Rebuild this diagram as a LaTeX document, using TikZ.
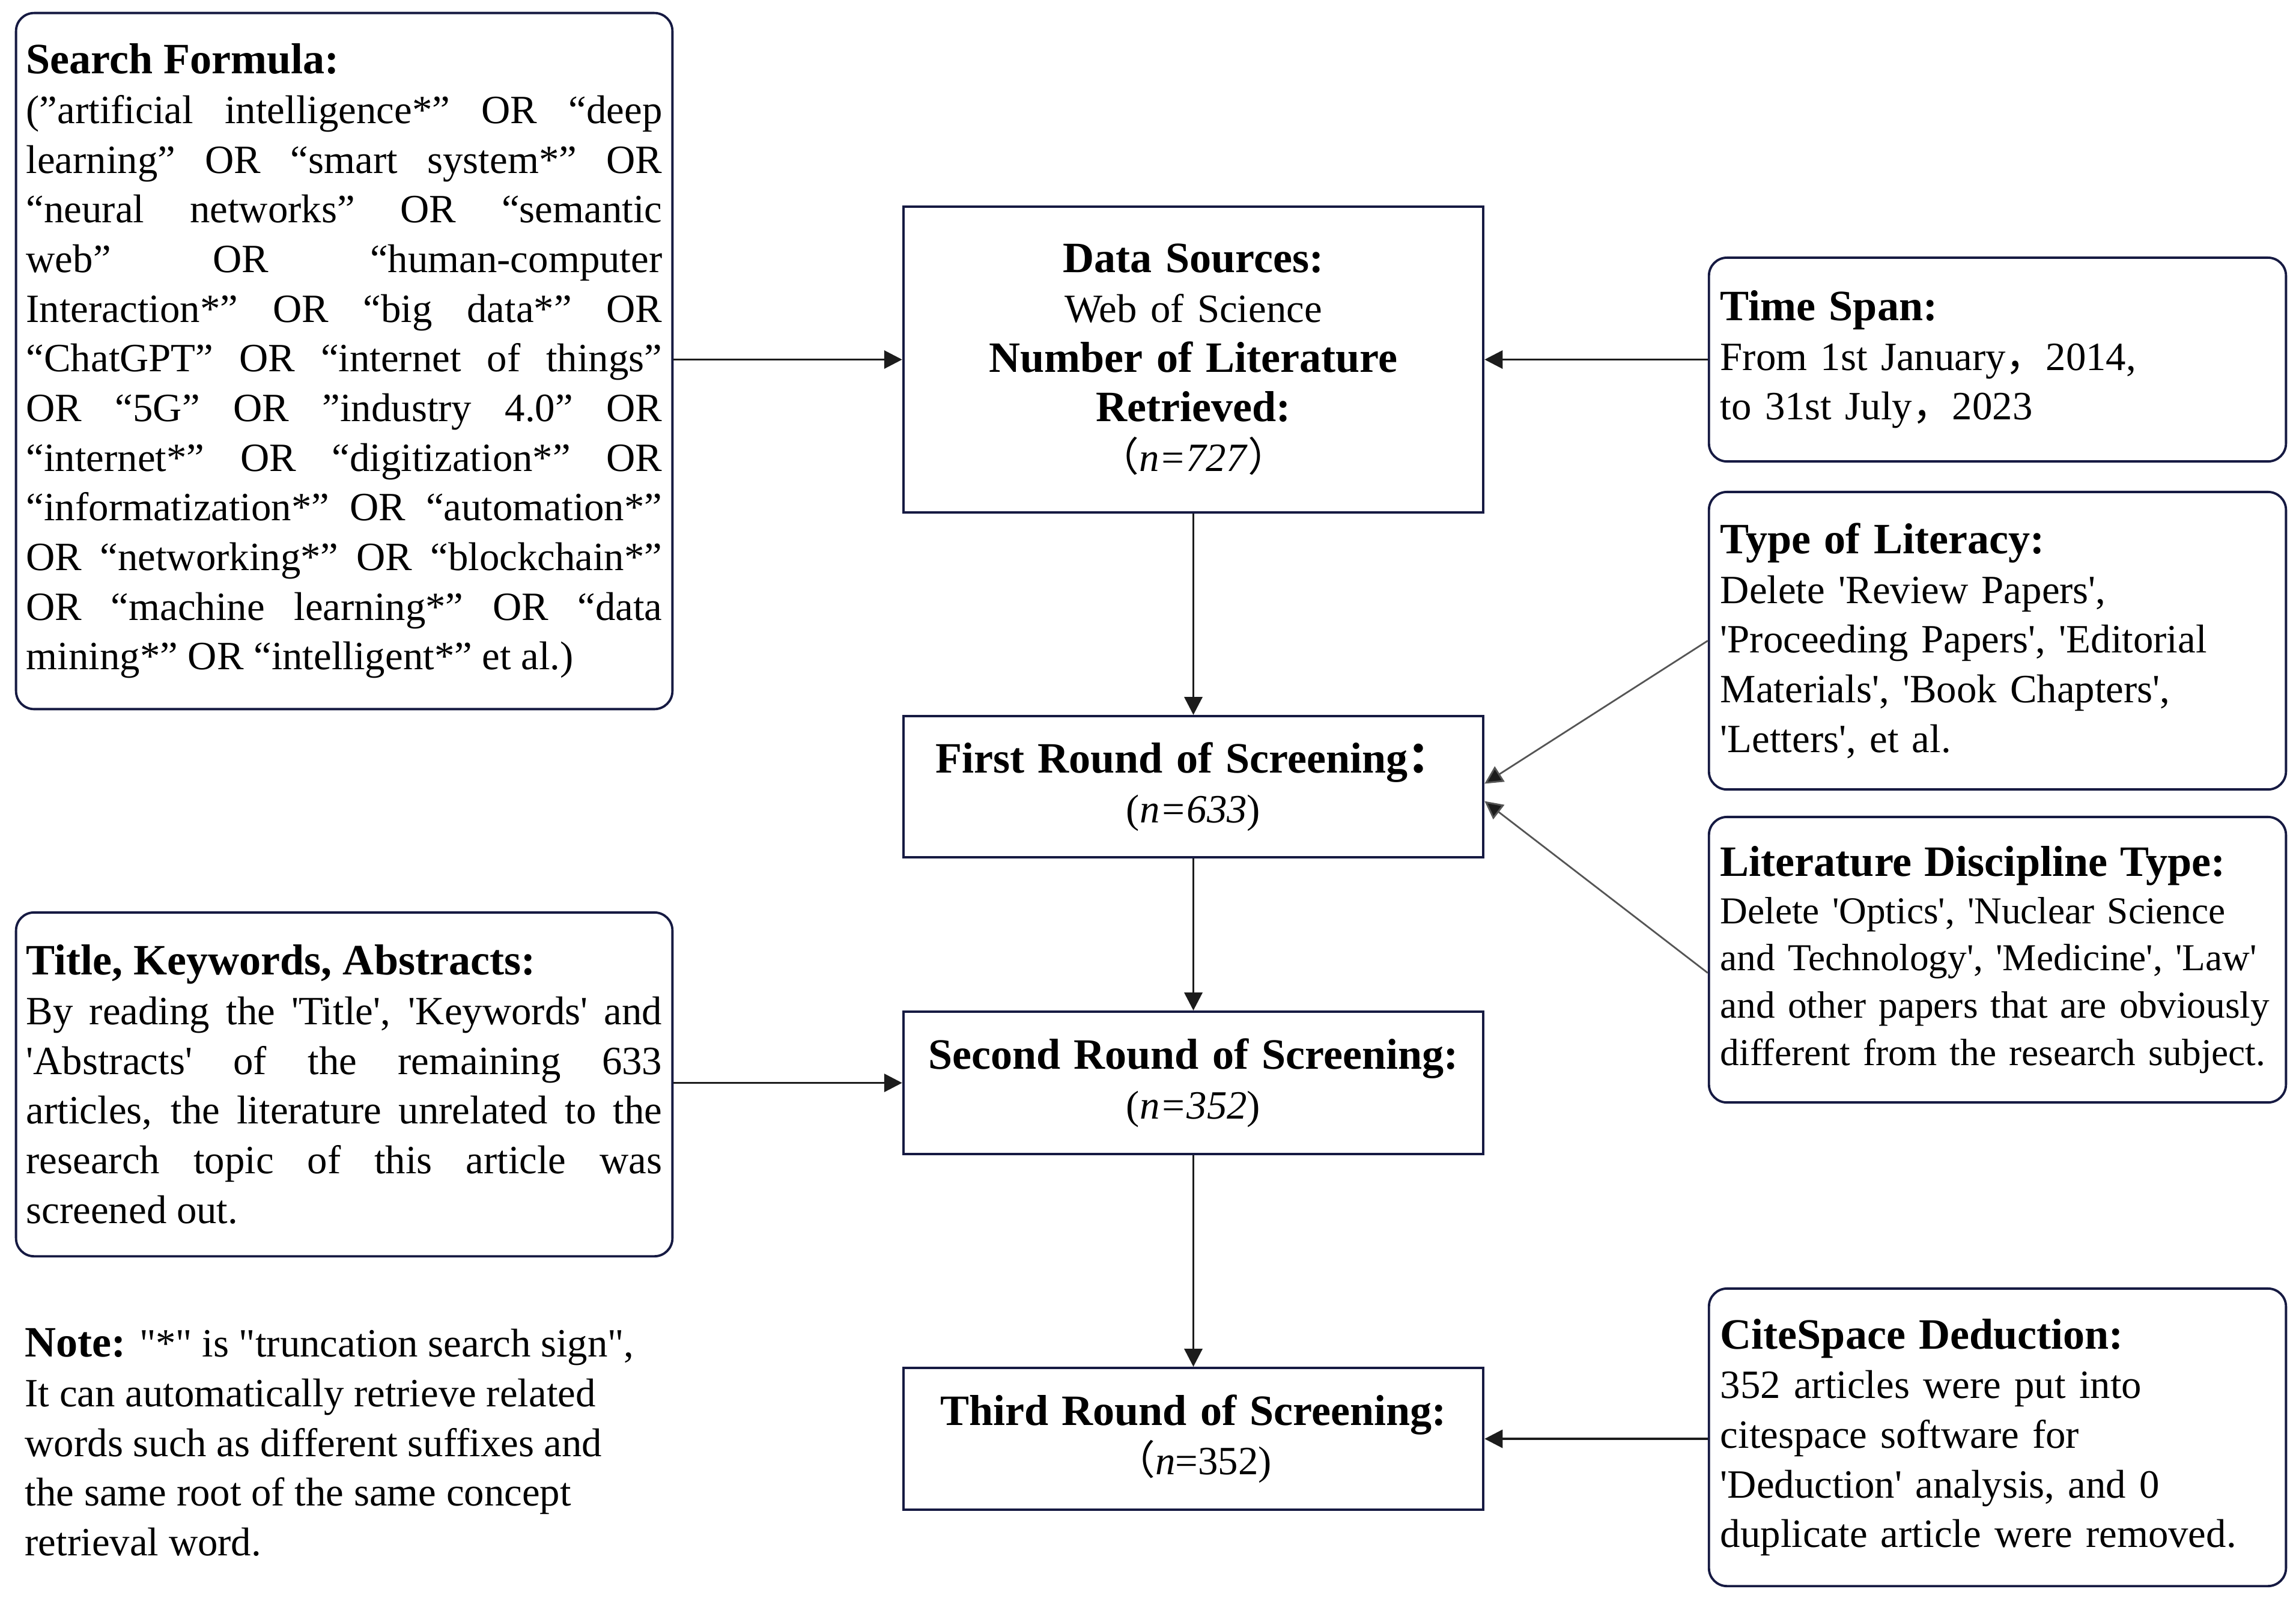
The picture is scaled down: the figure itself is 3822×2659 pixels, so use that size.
\documentclass[tikz,border=0pt]{standalone}
\usepackage{fontspec}
\setmainfont{Liberation Serif}[Ligatures=TeXOff]
\newfontfamily\cjkf{Noto Sans CJK SC}
\usetikzlibrary{arrows.meta,calc}
\definecolor{navy}{RGB}{22,26,66}
\definecolor{arrdark}{RGB}{28,28,28}
\definecolor{arrgray}{RGB}{85,85,85}
\setlength{\parindent}{0pt}
\tolerance=10000
\hbadness=10000
\hyphenpenalty=10000
\exhyphenpenalty=10000
\newcommand\hd[1]{{\fontsize{20.5}{23.5}\selectfont\bfseries #1}}
\newcommand\fw[1]{{\cjkf #1}}
\begin{document}
\begin{tikzpicture}[x=0.01cm,y=-0.01cm,
  bodyfont/.style={font=\fontsize{19}{23.5}\selectfont},
  leftbox/.style={draw=navy,line width=1.1pt,rounded corners=0.3cm,
    minimum width=10.92cm,text width=10.58cm,inner xsep=0.17cm,inner ysep=0pt,
    align=justify,bodyfont},
  sidebox/.style={draw=navy,line width=1.1pt,rounded corners=0.3cm,
    minimum width=9.6cm,text width=9.22cm,inner xsep=0.19cm,inner ysep=0pt,
    align=left,bodyfont},
  cbox/.style={draw=navy,line width=1.1pt,minimum width=9.65cm,
    text width=9.0cm,inner xsep=0.2cm,inner ysep=0pt,align=center,bodyfont},
  mainarrow/.style={draw=arrdark,line width=1.1pt,
    -{Triangle[length=0.3cm,width=0.3cm]}},
  thinarrow/.style={draw=arrgray,line width=0.8pt,
    -{Triangle[length=0.3cm,width=0.3cm,fill=arrdark]}}
]
\useasboundingbox (0,0) rectangle (3822,2659);

% left column
\node[leftbox,minimum height=11.58cm] (search) at (573,601) {\hd{Search Formula:}\\
(”artificial intelligence*” OR “deep\linebreak
learning” OR “smart system*” OR\linebreak
“neural networks” OR “semantic\linebreak
web” OR “human-computer\linebreak
Interaction*” OR “big data*” OR\linebreak
“ChatGPT” OR “internet of things”\linebreak
OR “5G” OR ”industry 4.0” OR\linebreak
“internet*” OR “digitization*” OR\linebreak
“informatization*” OR “automation*”\linebreak
OR “networking*” OR “blockchain*”\linebreak
OR “machine learning*” OR “data\linebreak
mining*” OR “intelligent*” et al.)};

\node[leftbox,minimum height=5.72cm] (title) at (573,1805) {\hd{Title, Keywords, Abstracts:}\\
By reading the 'Title', 'Keywords' and\linebreak
'Abstracts' of the remaining 633\linebreak
articles, the literature unrelated to the\linebreak
research topic of this article was\linebreak
screened out.};

\node[bodyfont,align=left,anchor=west,inner sep=0pt] (note) at (41,2401) {\hd{Note:} "*" is "truncation search sign",\\
It can automatically retrieve related\\
words such as different suffixes and\\
the same root of the same concept\\
retrieval word.};

% centre column
\node[cbox,minimum height=5.09cm] (data) at (1986.5,598.5) {\hd{Data Sources:}\\
Web of Science\\
\hd{Number of Literature}\\
\hd{Retrieved:}\\
\fw{（}\textit{n=727}\fw{）}};

\node[cbox,minimum height=2.35cm] (first) at (1986.5,1309.5) {\hd{First Round of Screening\fw{：}}\\
(\textit{n=633})};

\node[cbox,minimum height=2.37cm] (second) at (1986.5,1802.5) {\hd{Second Round of Screening:}\\
(\textit{n=352})};

\node[cbox,minimum height=2.36cm] (third) at (1986.5,2395) {\hd{Third Round of Screening:}\\
\fw{（}\textit{n}=352)};

% right column
\node[sidebox,minimum height=3.39cm] (time) at (3325,598.5) {\hd{Time Span:}\\
From 1st January\fw{，}2014,\\
to 31st July\fw{，}2023};

\node[sidebox,minimum height=4.95cm] (type) at (3325,1066.5) {\hd{Type of Literacy:}\\
Delete 'Review Papers',\\
'Proceeding Papers', 'Editorial\\
Materials', 'Book Chapters',\\
'Letters', et al.};

\node[sidebox,minimum height=4.75cm,font=\fontsize{18}{22.4}\selectfont] (lit) at (3325,1597.5) {\hd{Literature Discipline Type:}\\
Delete 'Optics', 'Nuclear Science\\
and Technology', 'Medicine', 'Law'\\
and other papers that are obviously\\
different from the research subject.};

\node[sidebox,minimum height=4.95cm] (cite) at (3325,2392.5) {\hd{CiteSpace Deduction:}\\
352 articles were put into\\
citespace software for\\
'Deduction' analysis, and 0\\
duplicate article were removed.};

% connectors
\draw[mainarrow] (search.east |- data.west) -- (data.west);
\draw[mainarrow] (time.west) -- (data.east);
\draw[mainarrow] (data.south) -- (first.north);
\draw[mainarrow] (first.south) -- (second.north);
\draw[mainarrow] (second.south) -- (third.north);
\draw[mainarrow] (title.east |- second.west) -- (second.west);
\draw[mainarrow] (cite.west |- third.east) -- (third.east);
\draw[thinarrow] (type.west) -- ($(first.east)+(0,-5)$);
\draw[thinarrow] ($(lit.west)+(0,22)$) -- ($(first.east)+(0,24)$);
\end{tikzpicture}
\end{document}
